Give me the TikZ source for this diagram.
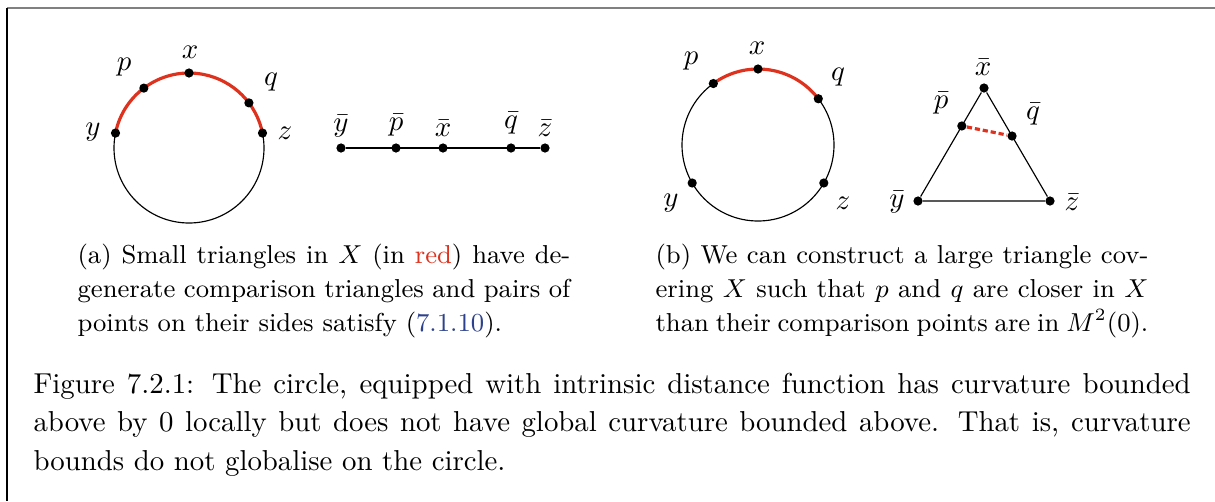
\documentclass[tikz,10pt,border=0pt]{standalone}
\usepackage{amsmath,amssymb}
\usepackage{xcolor}
\usetikzlibrary{calc,positioning}
\definecolor{arcred}{RGB}{222,50,30}
\definecolor{linkblue}{RGB}{45,65,140}

\tikzset{
  dot/.style={circle,fill,inner sep=0pt,minimum size=3.2pt},
  lab/.style={inner sep=0pt},
  redarc/.style={arcred,line width=1.1pt},
  subcap/.style={anchor=base west,inner sep=0pt,text width=171pt,align=justify,font=\fontsize{9}{11.8}\selectfont},
  figcap/.style={anchor=base west,inner sep=0pt,text width=401.5pt,align=justify,font=\fontsize{10}{13.4}\selectfont},
}

\begin{document}
\begin{tikzpicture}[x=0.347pt,y=0.347pt]
          \useasboundingbox (0,0) rectangle (1215,-501);
          \draw[gray,line width=0.7pt] (7,-8) -- (1215,-8);
          \draw (7,-8) -- (7,-501);
          % (a) circle and degenerate triangle
          \coordinate (c1) at (189,-148);
          \draw (c1) circle[radius=75];
          \draw[redarc] ($(c1)+(168.5:75)$) arc[start angle=168.5,end angle=11.5,radius=75];
          \node[dot] (y1) at ($(c1)+(168.5:75)$) {};
          \node[dot] (p1) at ($(c1)+(127:75)$) {};
          \node[dot] (x1) at ($(c1)+(90:75)$) {};
          \node[dot] (q1) at ($(c1)+(37:75)$) {};
          \node[dot] (z1) at ($(c1)+(11.5:75)$) {};
          \node[lab] (ly1) at (93,-132) {$y$};
          \node[lab] (lp1) at (124,-67) {$p$};
          \node[lab] (lx1) at (190,-52) {$x$};
          \node[lab] (lq1) at (271,-82) {$q$};
          \node[lab] (lz1) at (285,-133) {$z$};
          \node[dot] (ys) at (341,-148) {};
          \node[dot] (ps) at (396,-148) {};
          \node[dot] (xs) at (443,-148) {};
          \node[dot] (qs) at (511,-148) {};
          \node[dot] (zs) at (545,-148) {};
          \draw (ys) -- (zs);
          \node[lab] (lys) at (341,-126) {$\bar{y}$};
          \node[lab] (lps) at (396,-125) {$\bar{p}$};
          \node[lab] (lxs) at (443,-128) {$\bar{x}$};
          \node[lab] (lqs) at (511,-123) {$\bar{q}$};
          \node[lab] (lzs) at (545,-128) {$\bar{z}$};
          % (b) circle and large triangle
          \coordinate (c2) at (758,-145);
          \draw (c2) circle[radius=76];
          \draw[redarc] ($(c2)+(126:76)$) arc[start angle=126,end angle=37.5,radius=76];
          \node[dot] (p2) at ($(c2)+(126:76)$) {};
          \node[dot] (x2) at ($(c2)+(90:76)$) {};
          \node[dot] (q2) at ($(c2)+(37.5:76)$) {};
          \node[dot] (y2) at ($(c2)+(210:76)$) {};
          \node[dot] (z2) at ($(c2)+(330:76)$) {};
          \node[lab] (lp2) at (691,-61) {$p$};
          \node[lab] (lx2) at (757,-48) {$x$};
          \node[lab] (lq2) at (838,-77) {$q$};
          \node[lab] (ly2) at (671,-203) {$y$};
          \node[lab] (lz2) at (843,-203) {$z$};
          \node[dot] (xt) at (984,-88) {};
          \node[dot] (yt) at (918,-201) {};
          \node[dot] (zt) at (1050,-201) {};
          \node[dot] (pt) at ($(xt)!0.336!(yt)$) {};
          \node[dot] (qt) at ($(xt)!0.425!(zt)$) {};
          \draw (xt) -- (yt) -- (zt) -- (xt);
          \draw[redarc,dash pattern=on 1.8pt off 1pt] (pt) -- (qt);
          \node[lab] (lxt) at (983,-67) {$\bar{x}$};
          \node[lab] (lpt) at (941,-103) {$\bar{p}$};
          \node[lab] (lqt) at (1033,-114) {$\bar{q}$};
          \node[lab] (lyt) at (897,-202) {$\bar{y}$};
          \node[lab] (lzt) at (1072,-202) {$\bar{z}$};
          % captions
          \node[subcap] (capa) at (77,-263) {(a) Small triangles in $X$ (in \textcolor{arcred}{red}) have de-\linebreak generate comparison triangles and pairs of\linebreak points on their sides satisfy (\textcolor{linkblue}{7.1.10}).};
          \node[subcap] (capb) at (655,-263) {(b) We can construct a large triangle cov-\linebreak ering $X$ such that $p$ and $q$ are closer in $X$\linebreak than their comparison points are in $M^2(0)$.};
          \node[figcap] (cap) at (33,-393) {Figure 7.2.1: The circle, equipped with intrinsic distance function has curvature bounded\linebreak above by 0 locally but does not have global curvature bounded above. That is, curvature\linebreak bounds do not globalise on the circle.};
        \end{tikzpicture}
\end{document}
